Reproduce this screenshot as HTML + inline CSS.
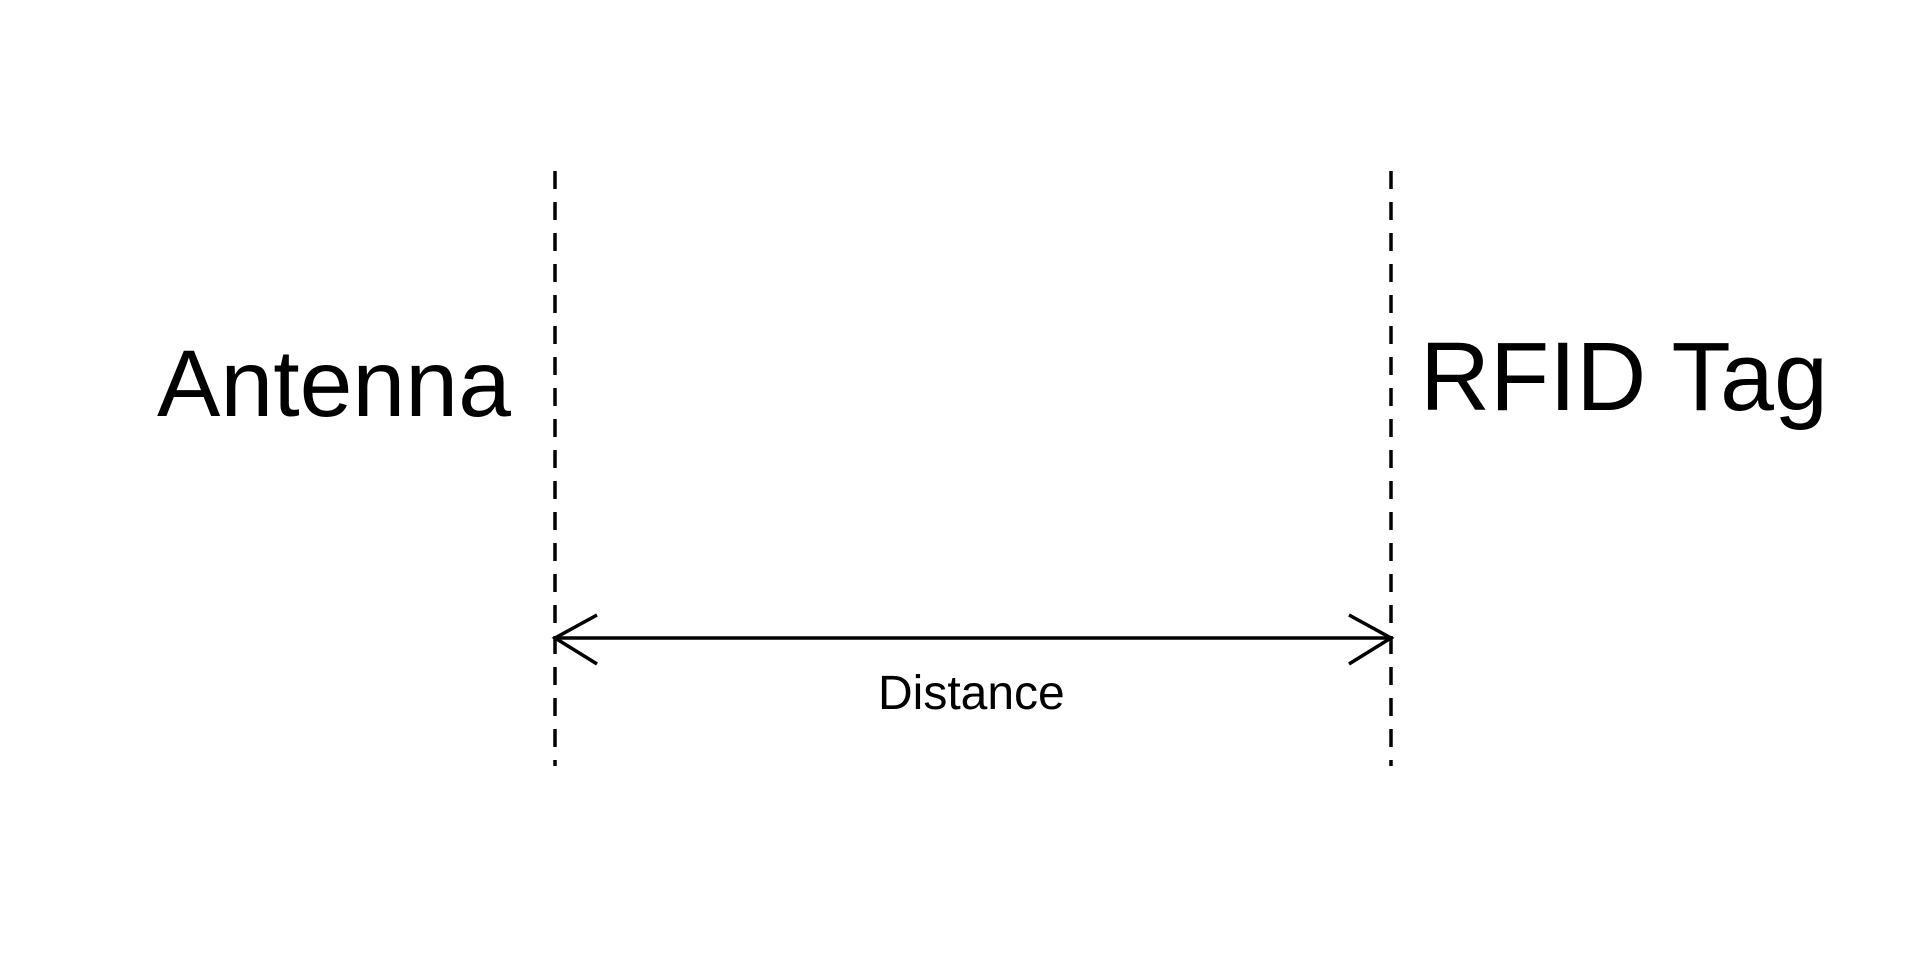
<!DOCTYPE html>
<html><head><meta charset="utf-8"><style>
html,body{margin:0;padding:0;background:#fff;width:1920px;height:960px;overflow:hidden}
</style></head><body>
<svg width="1920" height="960" xmlns="http://www.w3.org/2000/svg" style="display:block">
<rect width="1920" height="960" fill="#fff"/>
<line x1="555" y1="171" x2="555" y2="766" stroke="#000" stroke-width="3.5" stroke-dasharray="18,13"/>
<line x1="1391" y1="171" x2="1391" y2="766" stroke="#000" stroke-width="3.5" stroke-dasharray="18,13"/>
<line x1="555" y1="638" x2="1391" y2="638" stroke="#000" stroke-width="3.5"/>
<polyline points="597,615 555,638 597,664" fill="none" stroke="#000" stroke-width="3.5"/>
<polyline points="1349,615 1391,638 1349,664" fill="none" stroke="#000" stroke-width="3.5"/>
<g font-family="Liberation Sans, Arial, sans-serif" fill="#000">
<text x="157" y="416" font-size="95">Antenna</text>
<text x="1420" y="410" font-size="97">RFID Tag</text>
<text x="878" y="709" font-size="48">Distance</text>
</g>
</svg>
</body></html>
